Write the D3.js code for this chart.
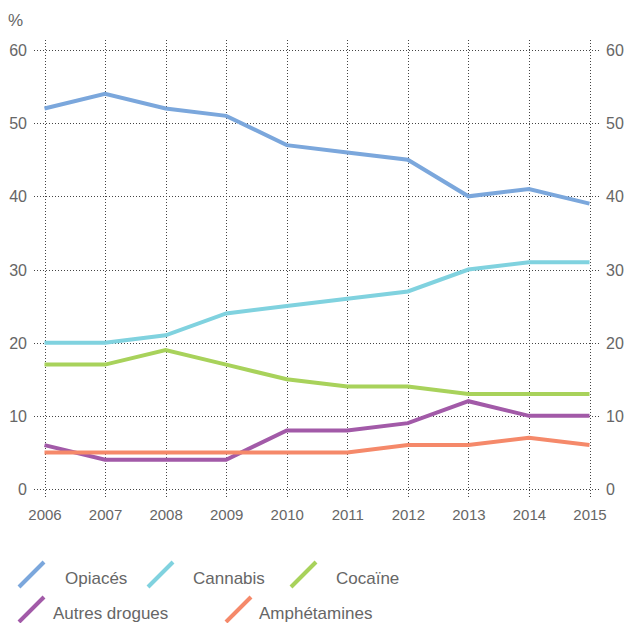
<!DOCTYPE html>
<html><head><meta charset="utf-8">
<script src="https://cdn.jsdelivr.net/npm/d3@7"></script>
<style>body{margin:0;background:#fff;} text{font-family:"Liberation Sans",Arial,sans-serif;fill:#666;}</style>
</head><body><svg id="c" width="628" height="623"></svg>
<script>
const years = [2006,2007,2008,2009,2010,2011,2012,2013,2014,2015];
const yTicks = [0,10,20,30,40,50,60];
const opiaces = [52,54,52,51,47,46,45,40,41,39];
const cannabis = [20,20,21,24,25,26,27,30,31,31];
const cocaine = [17,17,19,17,15,14,14,13,13,13];
const autres = [6,4,4,4,8,8,9,12,10,10];
const amphet = [5,5,5,5,5,5,6,6,7,6];
const seriesNames = ["Opiacés","Cannabis","Cocaïne","Autres drogues","Amphétamines"];
const colors = ["#7ba7dc","#80d2df","#a8d25b","#a25aa8","#f5896a"];
const seriesData = [opiaces,cannabis,cocaine,autres,amphet];

const svg = d3.select("#c");
const x = d3.scaleLinear().domain([2006,2015]).range([44.5,589.5]);
const y = d3.scaleLinear().domain([0,60]).range([489,50]);

const g = svg.append("g");
g.selectAll(".hg").data(yTicks).enter().append("line")
 .attr("x1",34).attr("x2",600).attr("y1",d=>Math.round(y(d))+0.5).attr("y2",d=>Math.round(y(d))+0.5)
 .attr("stroke","#444").attr("stroke-width",1).attr("stroke-dasharray","1,2");
g.selectAll(".vg").data(years).enter().append("line")
 .attr("x1",d=>Math.round(x(d))+0.5).attr("x2",d=>Math.round(x(d))+0.5).attr("y1",40).attr("y2",497)
 .attr("stroke","#444").attr("stroke-width",1).attr("stroke-dasharray","1,2");

const axL = d3.axisLeft(y).tickValues(yTicks).tickSize(0).tickPadding(0);
const gl = svg.append("g").attr("transform","translate(27,0)").call(axL);
gl.select(".domain").remove();
gl.selectAll("text").style("font-size","16px").attr("fill","#666").attr("dy","0.35em");
const axR = d3.axisRight(y).tickValues(yTicks).tickSize(0).tickPadding(0);
const gr = svg.append("g").attr("transform","translate(606,0)").call(axR);
gr.select(".domain").remove();
gr.selectAll("text").style("font-size","16px").attr("fill","#666").attr("dy","0.35em");
const axB = d3.axisBottom(x).tickValues(years).tickFormat(d3.format("d")).tickSize(0).tickPadding(0);
const gb = svg.append("g").attr("transform","translate(0,509)").call(axB);
gb.select(".domain").remove();
gb.selectAll("text").style("font-size","15px").attr("fill","#666").attr("dy","0.71em");

svg.append("text").attr("x",8).attr("y",26).style("font-size","17px").text("%");

const line = d3.line().x((d,i)=>x(years[i])).y(d=>y(d));
seriesData.forEach((s,i)=>{
  svg.append("path").attr("d",line(s)).attr("fill","none").attr("stroke",colors[i])
   .attr("stroke-width",4).attr("stroke-linejoin","miter");
});

const legPos = [[18,575],[147,575],[290,575],[18,610],[225,610]];
const textX = [65,193,336,53,259];
seriesNames.forEach((n,i)=>{
  const [lx,ly]=legPos[i];
  svg.append("line").attr("x1",lx+1).attr("y1",ly+12).attr("x2",lx+26).attr("y2",ly-13)
   .attr("stroke",colors[i]).attr("stroke-width",4);
  svg.append("text").attr("x",textX[i]).attr("y",ly+9).style("font-size","17px").text(n);
});
</script></body></html>
